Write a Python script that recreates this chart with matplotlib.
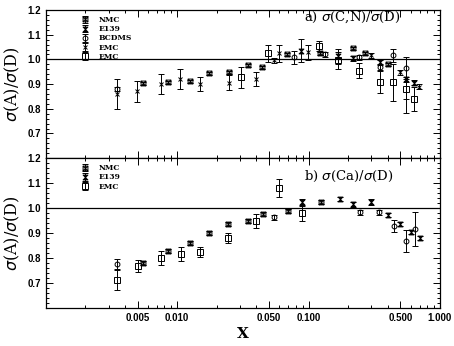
import numpy as np, matplotlib
matplotlib.use("Agg")
import matplotlib.pyplot as plt
from matplotlib.path import Path
from matplotlib.ticker import LogLocator, NullFormatter, MultipleLocator

# ---- panel a) sigma(C,N)/sigma(D) ----
a_nmc_x = [0.0055, 0.0085, 0.0125, 0.0174, 0.025, 0.0345, 0.044, 0.0685, 0.123, 0.218, 0.269, 0.40]
a_nmc_y = [0.903, 0.907, 0.911, 0.943, 0.947, 0.976, 0.968, 1.020, 1.024, 1.045, 1.024, 0.980]
a_nmc_e = [0.006] * 12
a_e139_x = [0.0875, 0.168, 0.218, 0.35, 0.55, 0.63]
a_e139_y = [1.036, 1.012, 1.004, 0.988, 0.920, 0.905]
a_e139_e = [0.045, 0.03, 0.01, 0.01, 0.01, 0.01]
a_bcdms_x = [0.0035, 0.077, 0.133, 0.242, 0.35, 0.44, 0.55]
a_bcdms_y = [0.880, 1.008, 1.020, 1.008, 0.970, 1.016, 0.964]
a_bcdms_lo = [0.01, 0.027, 0.01, 0.01, 0.012, 0.028, 0.18]
a_bcdms_hi = [0.01, 0.025, 0.01, 0.01, 0.012, 0.028, 0.045]
a_emcx_x = [0.0035, 0.0049, 0.0075, 0.0105, 0.015, 0.025, 0.040, 0.0545, 0.060, 0.099, 0.30, 0.50, 0.69]
a_emcx_y = [0.860, 0.870, 0.900, 0.920, 0.900, 0.905, 0.920, 0.996, 1.024, 1.028, 1.016, 0.947, 0.890]
a_emcx_e = [0.06, 0.042, 0.04, 0.04, 0.03, 0.03, 0.028, 0.01, 0.035, 0.03, 0.01, 0.01, 0.01]
a_emc_x = [0.0305, 0.049, 0.12, 0.168, 0.242, 0.35, 0.44, 0.55, 0.635]
a_emc_y = [0.927, 1.024, 1.053, 0.996, 0.955, 0.907, 0.907, 0.880, 0.840]
a_emc_e = [0.043, 0.035, 0.02, 0.035, 0.03, 0.045, 0.075, 0.04, 0.05]

# ---- panel b) sigma(Ca)/sigma(D) ----
b_nmc_x = [0.0055, 0.0085, 0.0125, 0.0175, 0.0243, 0.0345, 0.045, 0.07, 0.125]
b_nmc_y = [0.780, 0.828, 0.860, 0.900, 0.936, 0.948, 0.976, 0.988, 1.024]
b_nmc_e = [0.008] * 9
b_circ_x = [0.0035, 0.055, 0.248, 0.345, 0.45, 0.55, 0.65]
b_circ_y = [0.776, 0.964, 0.984, 0.984, 0.928, 0.868, 0.916]
b_circ_e = [0.02, 0.01, 0.01, 0.01, 0.024, 0.044, 0.068]
b_e139_x = [0.089, 0.173, 0.218, 0.30, 0.40, 0.497, 0.60, 0.70]
b_e139_y = [1.024, 1.036, 1.016, 1.024, 0.972, 0.936, 0.904, 0.880]
b_e139_e = [0.012, 0.008, 0.01, 0.012, 0.008, 0.008, 0.008, 0.008]
b_emc_x = [0.0035, 0.005, 0.0075, 0.0107, 0.015, 0.0243, 0.040, 0.0595, 0.089]
b_emc_y = [0.712, 0.768, 0.800, 0.816, 0.824, 0.880, 0.948, 1.080, 0.980]
b_emc_e = [0.04, 0.025, 0.03, 0.03, 0.02, 0.02, 0.028, 0.035, 0.03]

xticks = [0.005, 0.01, 0.05, 0.1, 0.5, 1.0]
xticklabels = ["0.005", "0.010", "0.050", "0.100", "0.500", "1.000"]

M, L, C = Path.MOVETO, Path.LINETO, Path.CLOSEPOLY
boxx = Path([(-1, -1), (1, -1), (1, 1), (-1, 1), (-1, -1), (-1, -1), (1, 1), (-1, 1), (1, -1)],
            [M, L, L, L, C, M, L, M, L])
hourglass = Path([(-1, 1), (1, 1), (-1, -1), (1, -1), (-1, 1)], [M, L, L, L, C])

fig = plt.figure(figsize=(4.54, 3.46), dpi=100)
axa = fig.add_axes([0.101, 0.543, 0.868, 0.428])
axb = fig.add_axes([0.101, 0.110, 0.868, 0.433], sharex=axa)

kw = dict(ls="none", color="k", ecolor="k", elinewidth=0.7, capsize=2.5, capthick=0.7, mew=0.7)

def eb(ax, x, y, e, marker, label, ms=3.5, fill="none"):
    ax.errorbar(x, y, yerr=e, marker=marker, ms=ms, mfc=fill, mec="k", label=label, **kw)

eb(axa, a_nmc_x, a_nmc_y, a_nmc_e, boxx, "NMC", 3.5)
eb(axa, a_e139_x, a_e139_y, a_e139_e, hourglass, "E139", 3.5, "k")
eb(axa, a_bcdms_x, a_bcdms_y, [a_bcdms_lo, a_bcdms_hi], "o", "BCDMS", 3.5)
eb(axa, a_emcx_x, a_emcx_y, a_emcx_e, "x", "EMC", 3.5)
eb(axa, a_emc_x, a_emc_y, a_emc_e, "s", "EMC", 4)

eb(axb, b_nmc_x, b_nmc_y, b_nmc_e, boxx, "NMC", 3.5)
eb(axb, b_circ_x, b_circ_y, b_circ_e, "o", "_nolegend_", 3.5)
eb(axb, b_e139_x, b_e139_y, b_e139_e, hourglass, "E139", 3.5, "k")
eb(axb, b_emc_x, b_emc_y, b_emc_e, "s", "EMC", 4)

for ax in (axa, axb):
    ax.set_xscale("log")
    ax.set_xlim(0.001, 1.0)
    ax.set_ylim(0.6, 1.2)
    ax.axhline(1.0, color="k", lw=0.9, zorder=0)
    ax.yaxis.set_major_locator(MultipleLocator(0.1))
    ax.yaxis.set_minor_locator(MultipleLocator(0.02))
    ax.xaxis.set_minor_locator(LogLocator(subs=np.arange(2, 10)))
    ax.xaxis.set_minor_formatter(NullFormatter())
    ax.tick_params(which="both", direction="in", top=True, right=True, width=0.7)
    ax.tick_params(which="major", length=5)
    ax.tick_params(which="minor", length=2.5)
    for s in ax.spines.values():
        s.set_linewidth(0.9)
    ax.set_ylabel(r"$\sigma$(A)/$\sigma$(D)", family="DejaVu Serif", fontsize=11.5, labelpad=4)
    ax.legend(loc="upper left", bbox_to_anchor=(0.075, 1.0), frameon=False,
              prop=dict(family="DejaVu Serif", weight="bold", size=5.5),
              handlelength=1.0, handletextpad=1.2, labelspacing=0.15, borderpad=0.3)

axa.set_yticks([0.7, 0.8, 0.9, 1.0, 1.1, 1.2], ["0.7", "0.8", "0.9", "1.0", "1.1", "1.2"])
axb.set_yticks([0.7, 0.8, 0.9, 1.0, 1.1, 1.2], ["0.7", "0.8", "0.9", "1.0", "1.1", "1.2"])
axb.set_xticks(xticks, xticklabels)
axa.tick_params(labelbottom=False)
for ax in (axa, axb):
    for t in ax.get_xticklabels() + ax.get_yticklabels():
        t.set_family("Liberation Sans"); t.set_weight("bold"); t.set_fontsize(7)

axa.text(0.655, 0.953, r"a) $\sigma$(C,N)/$\sigma$(D)", transform=axa.transAxes,
         family="DejaVu Serif", fontsize=9.5, va="center")
axb.text(0.655, 0.88, r"b) $\sigma$(Ca)/$\sigma$(D)", transform=axb.transAxes,
         family="DejaVu Serif", fontsize=9.5, va="center")
axb.set_xlabel("X", family="DejaVu Serif", fontsize=11, weight="bold", labelpad=3)

fig.savefig("out.png", dpi=100)
